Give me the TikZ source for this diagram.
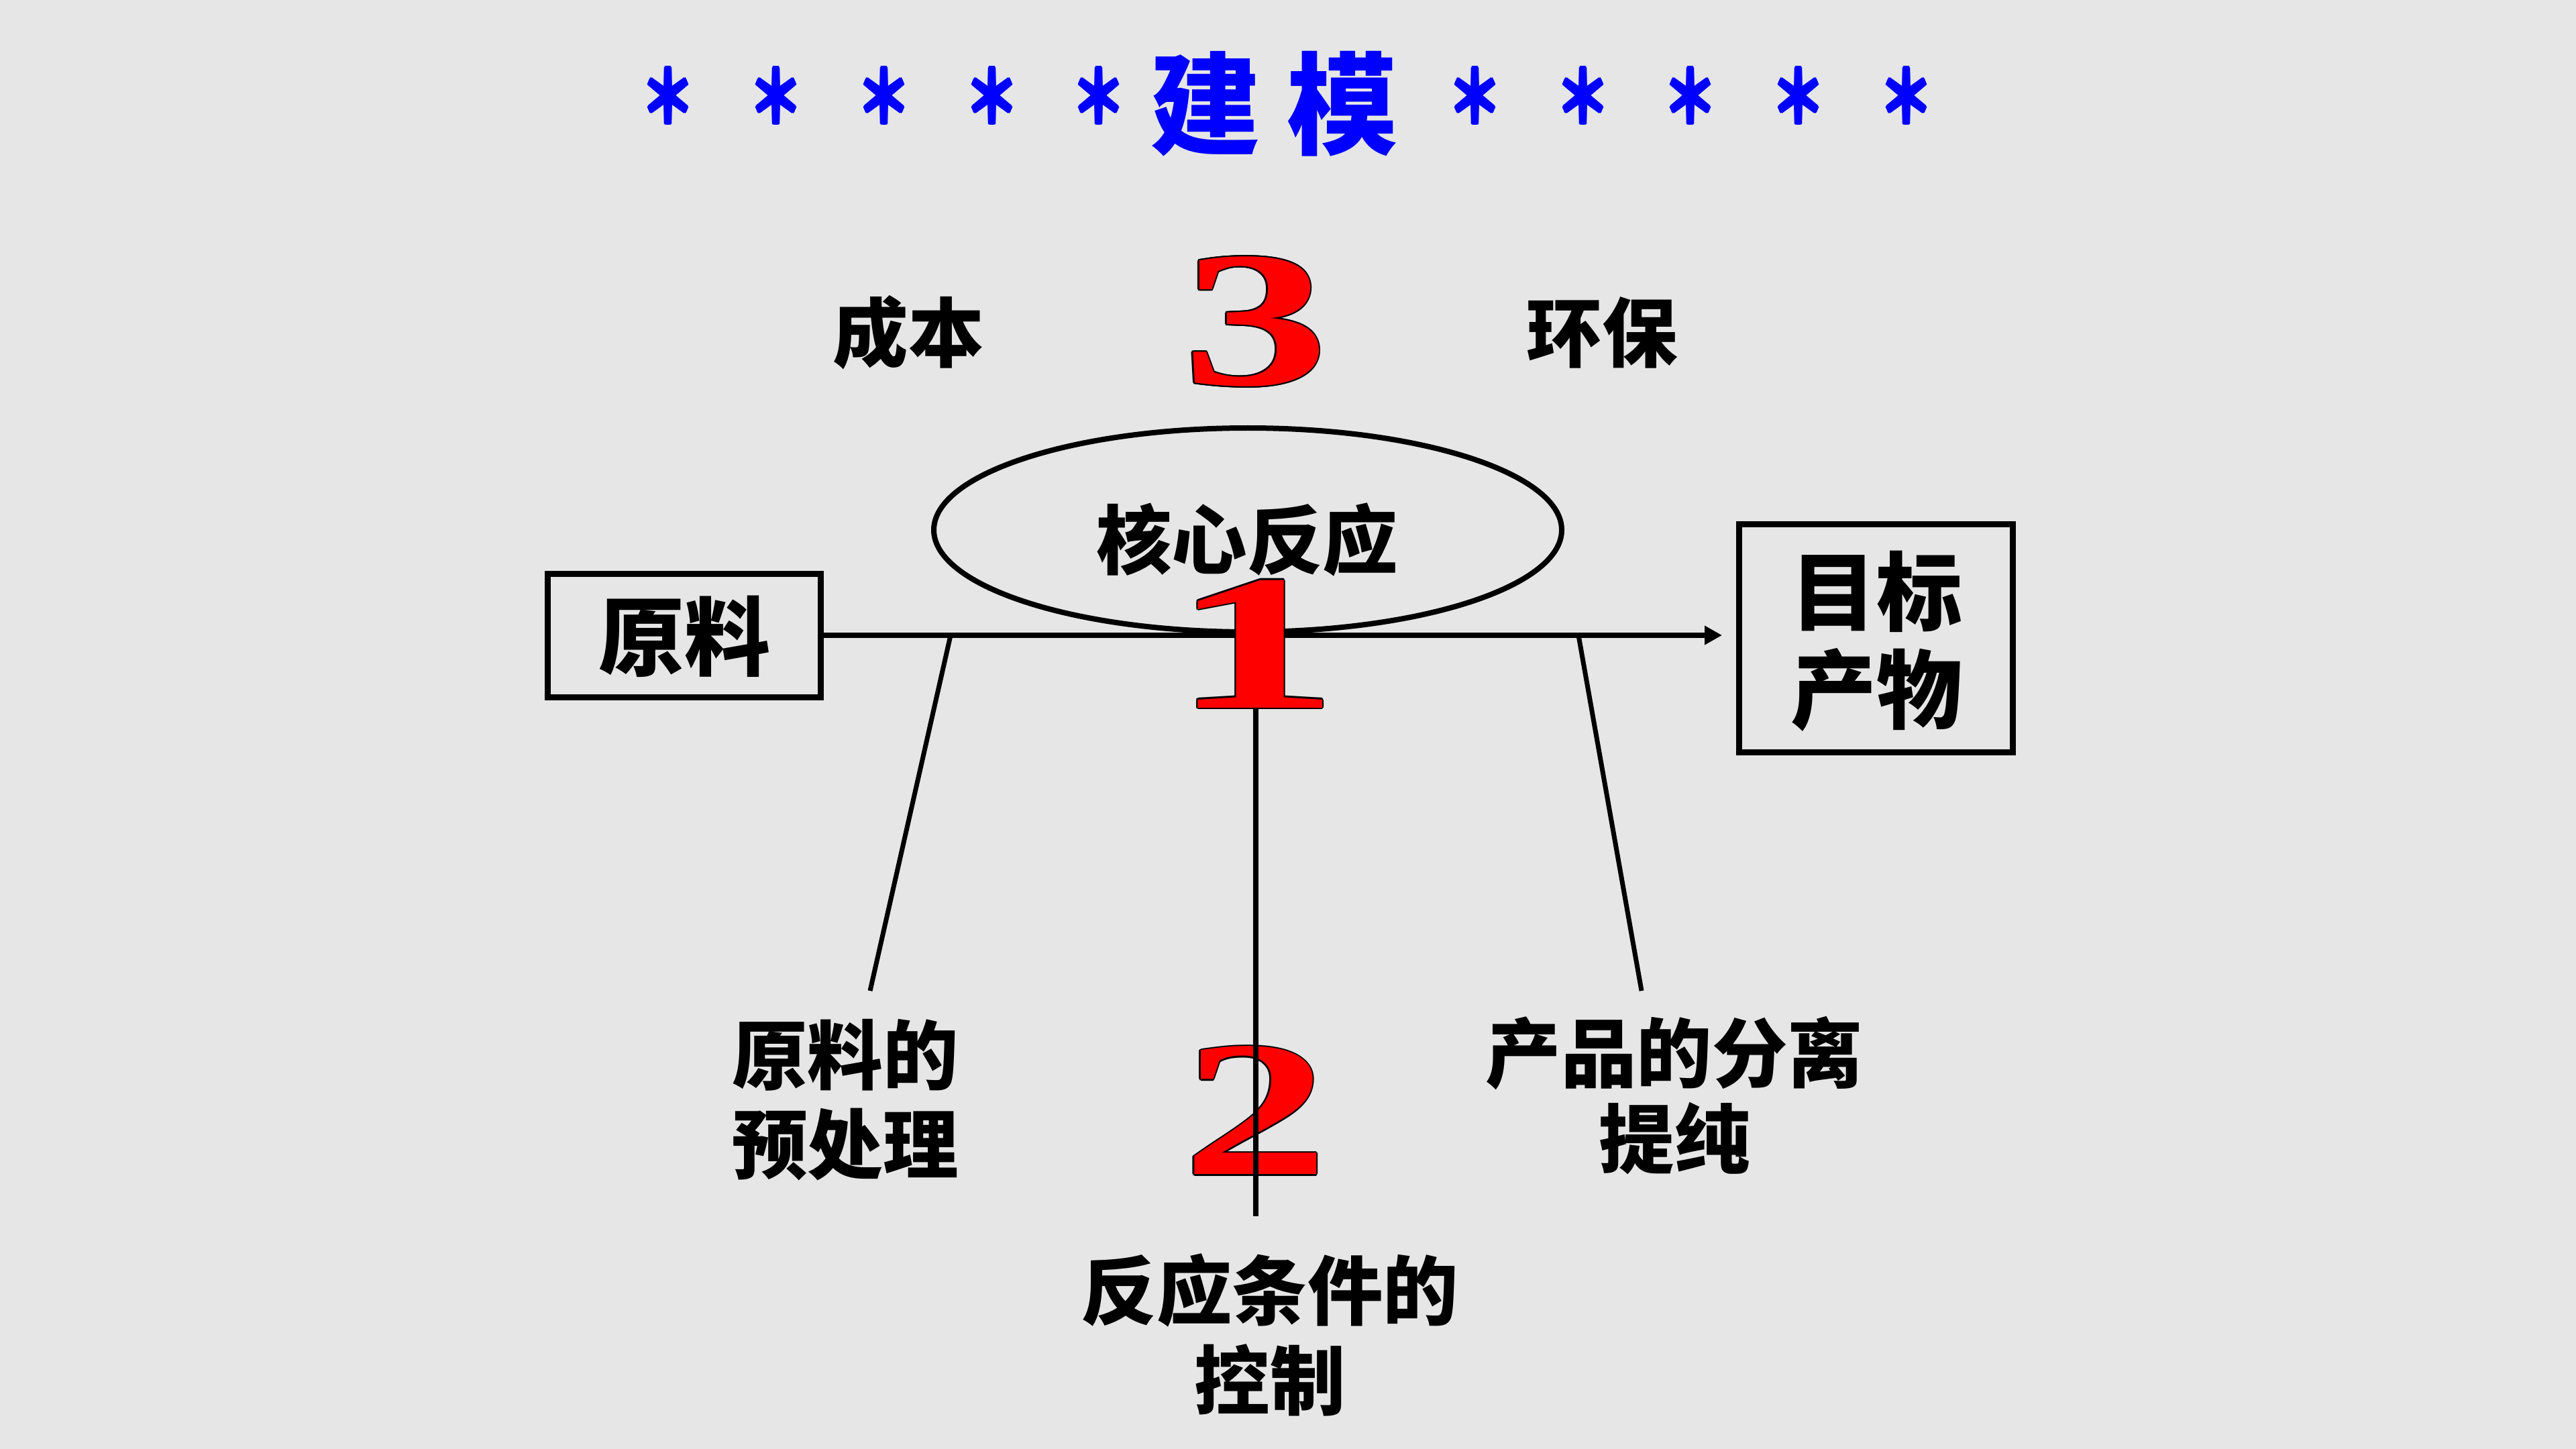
\documentclass[tikz,border=0pt]{standalone}
\usepackage{fontspec}
\usepackage{graphicx}
\newfontfamily\cjk{Noto Sans CJK SC}
\newfontfamily\digitfont{Liberation Serif}
\usetikzlibrary{shapes.geometric,arrows.meta,calc}
\definecolor{bg}{RGB}{230,230,230}
\definecolor{titleblue}{RGB}{0,0,255}
\definecolor{digitred}{RGB}{255,0,0}
\tikzset{
  lbl/.style={font=\cjk\bfseries\fontsize{32pt}{37.8pt}\selectfont, align=center, inner sep=0pt, text=black},
  boxlbl/.style={font=\cjk\bfseries\fontsize{36.4pt}{41.5pt}\selectfont, align=center, inner sep=0pt, text=black},
  titlech/.style={font=\cjk\bfseries\fontsize{47pt}{50pt}\selectfont, text=titleblue, inner sep=0pt},
  starch/.style={font=\cjk\bfseries\fontsize{27pt}{30pt}\selectfont, text=titleblue, inner sep=0pt},
  digit/.style={font=\digitfont\bfseries\fontsize{82pt}{90pt}\selectfont, inner sep=0pt},
  conn/.style={line width=0.075cm, draw=black},
  framebox/.style={draw=black, line width=0.09cm, rectangle, inner sep=0pt},
}
\begin{document}
\begin{tikzpicture}
% background
\fill[bg] (0,0) rectangle (38.4,-21.6);
\useasboundingbox (0,0) rectangle (38.4,-21.6);

% title
\foreach \x [count=\i] in {9.96,11.57,13.18,14.79,16.38,21.99,23.60,25.20,26.81,28.42}{
  \foreach \a [count=\j] in {0,60,...,300}
    \node[starch] (star\i b\j) at ($(\x,-1.425)+(\a:0.018)$) {\scalebox{0.85}[1.15]{＊}};
  \node[starch] (star\i) at (\x,-1.425) {\scalebox{0.85}[1.15]{＊}};
}
\node[titlech] (jian) at (17.97,-1.55) {建};
\node[titlech] (mo) at (20.01,-1.55) {模};

% digit 2 (under the vertical line)
\foreach \a [count=\i] in {0,45,...,315}
  \node[digit,text=black] (twoo\i) at ($(18.715,-16.555)+(\a:0.022)$) {\scalebox{1.52}[1]{2}};
\node[digit,text=digitred] (two) at (18.715,-16.555) {\scalebox{1.52}[1]{2}};

% ellipse
\node[ellipse, draw=black, line width=0.08cm, minimum width=9.36cm, minimum height=3.04cm, inner sep=0pt] (core) at (18.60,-7.90) {};

% boxes
\node[framebox, minimum width=4.07cm, minimum height=1.84cm] (raw) at (10.20,-9.47) {};
\node[boxlbl] (rawtxt) at (10.20,-9.49) {原料};
\node[framebox, minimum width=4.08cm, minimum height=3.40cm] (target) at (27.965,-9.515) {};
\node[boxlbl] (targettxt) at (27.97,-9.56) {目标\\产物};

% connectors
\coordinate (tip) at (25.67,-9.47);
\coordinate (b1) at (14.17,-9.47);
\coordinate (b2) at (18.72,-9.47);
\coordinate (b3) at (23.53,-9.47);
\coordinate (e1) at (12.97,-14.77);
\coordinate (e2) at (18.72,-18.13);
\coordinate (e3) at (24.47,-14.77);
\draw[conn, -{Triangle[length=0.26cm,width=0.27cm]}] (raw.east) -- (tip);
\draw[conn, line width=0.07cm] (b1) -- (e1);
\draw[conn, line width=0.07cm] (b3) -- (e3);
\draw[conn] (b2) -- (e2);

% digit 1 and 3
\foreach \a [count=\i] in {0,45,...,315}
  \node[digit,text=black] (oneo\i) at ($(18.715,-9.60)+(\a:0.022)$) {\scalebox{1.75}[1]{1}};
\node[digit,text=digitred] (one) at (18.715,-9.60) {\scalebox{1.75}[1]{1}};
\foreach \a [count=\i] in {0,45,...,315}
  \node[digit,text=black] (threeo\i) at ($(18.715,-4.795)+(\a:0.022)$) {\scalebox{1.52}[1]{3}};
\node[digit,text=digitred] (three) at (18.715,-4.795) {\scalebox{1.52}[1]{3}};

% labels
\node[lbl] (cost) at (13.54,-4.96) {成本};
\node[lbl] (green) at (23.88,-4.96) {环保};
\node[lbl] (coretxt) at (18.59,-8.05) {核心反应};
\node[lbl] (pre) at (12.60,-16.40) {原料的\\预处理};
\node[lbl, font=\cjk\bfseries\fontsize{32pt}{36.4pt}\selectfont] (sep) at (24.96,-16.33) {产品的分离\\提纯};
\node[lbl, font=\cjk\bfseries\fontsize{32pt}{38.1pt}\selectfont] (cond) at (18.93,-19.90) {反应条件的\\控制};
\end{tikzpicture}
\end{document}
